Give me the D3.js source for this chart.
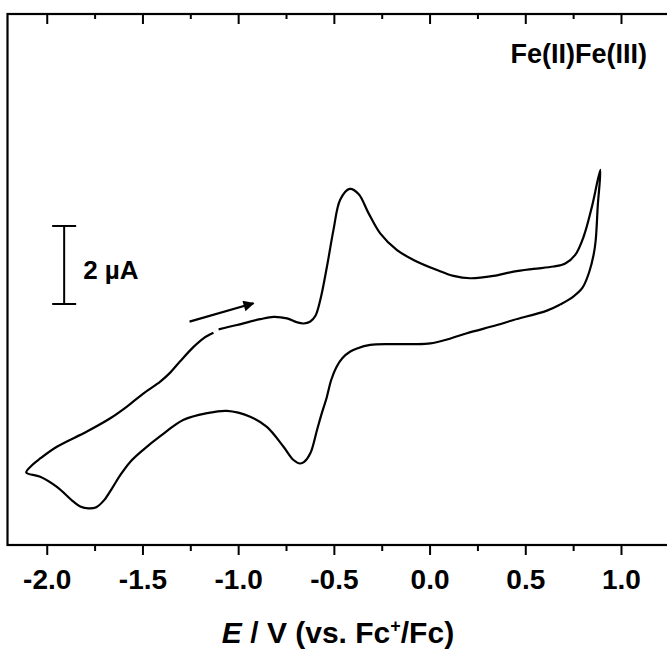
<!DOCTYPE html>
<html>
<head>
<meta charset="utf-8">
<script src="https://cdn.jsdelivr.net/npm/d3@7"></script>
<style>
  body { margin: 0; background: #fff; }
  svg { display: block; }
  text { font-family: "Liberation Sans", Arial, sans-serif; font-weight: bold; fill: #000; }
</style>
</head>
<body>
<svg id="chart" width="667" height="652"></svg>
<script>
// cyclic voltammogram, potential in V, current in uA (scan order, starts at -1.1 V going positive)
var potential = [-1.102, -1.006, -0.885, -0.815, -0.745, -0.693, -0.658, -0.623, -0.597, -0.571,
  -0.536, -0.502, -0.467, -0.418, -0.371, -0.319, -0.258, -0.170,
  -0.084, 0.039, 0.125, 0.213, 0.334, 0.439, 0.543, 0.648, 0.709, 0.761,
  0.805, 0.848, 0.892,
  0.879, 0.868, 0.857, 0.834, 0.798, 0.746, 0.683, 0.613, 0.439, 0.352,
  0.195, 0.091, 0.004, -0.084, -0.205, -0.310, -0.379, -0.414, -0.456, -0.487,
  -0.514, -0.537, -0.566, -0.588, -0.623, -0.655, -0.676, -0.711, -0.763, -0.850,
  -0.937, -1.059, -1.163, -1.285, -1.407, -1.496, -1.564, -1.616, -1.658, -1.700,
  -1.741, -1.782, -1.825, -1.860, -1.947, -2.034, -2.107,
  -2.076, -2.034, -1.947, -1.790, -1.668, -1.581, -1.494, -1.407, -1.355, -1.303,
  -1.233, -1.181, -1.129];
var current = [0.53, 0.64, 0.79, 0.85, 0.81, 0.71, 0.68, 0.73, 0.87, 1.28,
  2.14, 3.08, 3.85, 4.13, 4.00, 3.51, 2.99, 2.56,
  2.31, 2.05, 1.90, 1.84, 1.90, 2.01, 2.08, 2.14, 2.22, 2.44,
  2.91, 3.67, 4.62,
  3.72, 2.82, 2.44, 2.00, 1.59, 1.35, 1.17, 1.01, 0.77, 0.64,
  0.43, 0.27, 0.17, 0.15, 0.15, 0.13, 0.04, -0.04, -0.21, -0.44,
  -0.77, -1.21, -1.67, -2.05, -2.65, -2.87, -2.91, -2.82, -2.48, -1.97,
  -1.71, -1.56, -1.62, -1.79, -2.21, -2.56, -2.87, -3.21, -3.54, -3.85,
  -4.03, -4.06, -4.01, -3.89, -3.51, -3.25, -3.14,
  -2.95, -2.78, -2.48, -2.09, -1.75, -1.45, -1.11, -0.81, -0.58, -0.29,
  0.08, 0.30, 0.44];

var majorTicks = [-2.0, -1.5, -1.0, -0.5, 0.0, 0.5, 1.0];
var minorTicks = [-1.75, -1.25, -0.75, -0.25, 0.25, 0.75, 1.25];

var arrowFrom = [-1.254, 0.726], arrowTo = [-0.920, 1.197];
var scaleBar = { e: -1.909, i0: 1.18, i1: 3.18, label: "2 \u00b5A" };
var title = "Fe(II)Fe(III)";

var svg = d3.select("#chart");
var mLeft = 7.5, mTop = 14, mBottom = 545, mRight = 676.5;

var x = d3.scaleLinear().domain([-2.205, 1.29]).range([mLeft, mRight]);
var y = d3.scaleLinear().domain([-5.0, 8.615]).range([mBottom, mTop]);

function blackTicks(g) {
  g.select(".domain").remove();
  g.selectAll("line").attr("stroke", "#000").attr("stroke-width", 2);
}

// ticks
svg.append("g").attr("transform", "translate(0," + mBottom + ")")
  .call(d3.axisBottom(x).tickValues(majorTicks).tickSize(10)
    .tickFormat(function(d) { return d.toFixed(1); }))
  .call(blackTicks)
  .call(function(g) {
    g.selectAll("text").attr("dy", null).attr("y", 44)
      .attr("font-size", 28).attr("font-family", null)
      .style("font-family", "Liberation Sans, Arial, sans-serif").style("font-weight", "bold");
  });
svg.append("g").attr("transform", "translate(0," + mBottom + ")")
  .call(d3.axisBottom(x).tickValues(minorTicks).tickSize(6).tickFormat(""))
  .call(blackTicks);
svg.append("g").attr("transform", "translate(0," + mTop + ")")
  .call(d3.axisTop(x).tickValues(majorTicks).tickSize(-10).tickFormat(""))
  .call(blackTicks);
svg.append("g").attr("transform", "translate(0," + mTop + ")")
  .call(d3.axisTop(x).tickValues(minorTicks).tickSize(-5).tickFormat(""))
  .call(blackTicks);

// frame
svg.append("rect")
  .attr("x", mLeft).attr("y", mTop)
  .attr("width", mRight - mLeft).attr("height", mBottom - mTop)
  .attr("fill", "none").attr("stroke", "#000").attr("stroke-width", 2.2);

// CV trace
var pts = potential.map(function(e, i) { return [e, current[i]]; });
var line = d3.line()
  .x(function(d) { return x(d[0]); })
  .y(function(d) { return y(d[1]); })
  .curve(d3.curveCatmullRom.alpha(0.5));
svg.append("path").datum(pts)
  .attr("d", line)
  .attr("fill", "none").attr("stroke", "#000").attr("stroke-width", 2.2)
  .attr("stroke-linejoin", "round");

// scan direction arrow
svg.append("defs").append("marker")
  .attr("id", "head").attr("viewBox", "0 0 10 10")
  .attr("refX", 9).attr("refY", 5)
  .attr("markerWidth", 8).attr("markerHeight", 5)
  .attr("markerUnits", "strokeWidth")
  .attr("orient", "auto")
  .append("path").attr("d", "M0,0 L10,5 L0,10 Z").attr("fill", "#000");
svg.append("line")
  .attr("x1", x(arrowFrom[0])).attr("y1", y(arrowFrom[1]))
  .attr("x2", x(arrowTo[0])).attr("y2", y(arrowTo[1]))
  .attr("stroke", "#000").attr("stroke-width", 2.2)
  .attr("marker-end", "url(#head)");

// 2 uA scale bar
var sb = svg.append("g").attr("stroke", "#000").attr("stroke-width", 2);
sb.append("line").attr("x1", x(scaleBar.e)).attr("x2", x(scaleBar.e))
  .attr("y1", y(scaleBar.i0)).attr("y2", y(scaleBar.i1));
sb.append("line").attr("x1", x(scaleBar.e) - 12).attr("x2", x(scaleBar.e) + 12)
  .attr("y1", y(scaleBar.i0)).attr("y2", y(scaleBar.i0));
sb.append("line").attr("x1", x(scaleBar.e) - 12).attr("x2", x(scaleBar.e) + 12)
  .attr("y1", y(scaleBar.i1)).attr("y2", y(scaleBar.i1));
svg.append("text")
  .attr("x", x(scaleBar.e) + 19).attr("y", 279)
  .attr("font-size", 26)
  .text(scaleBar.label);

svg.append("text")
  .attr("x", 647).attr("y", 63)
  .attr("text-anchor", "end")
  .attr("font-size", 27)
  .text(title);

// x axis title
var xt = svg.append("text")
  .attr("x", 338).attr("y", 643)
  .attr("text-anchor", "middle")
  .attr("font-size", 30);
xt.append("tspan").attr("font-style", "italic").text("E");
xt.append("tspan").text(" / V (vs. Fc");
xt.append("tspan").attr("font-size", 18).attr("dy", -11).text("+");
xt.append("tspan").attr("dy", 11).text("/Fc)");
</script>
</body>
</html>
